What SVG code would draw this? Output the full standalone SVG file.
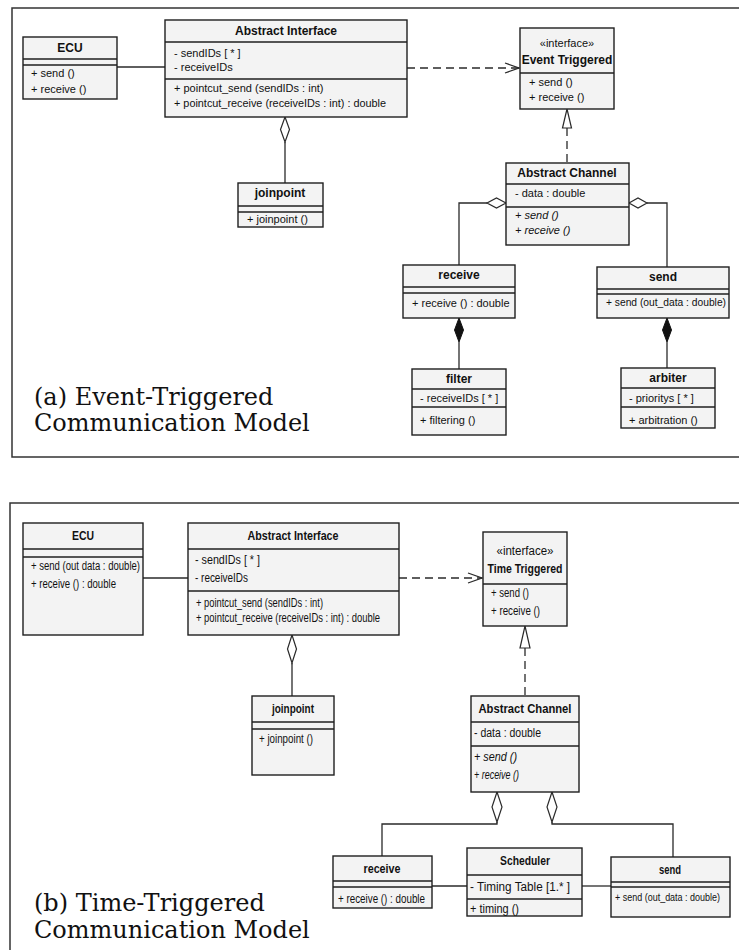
<svg xmlns="http://www.w3.org/2000/svg" width="739" height="950" viewBox="0 0 739 950">
<style>
.bg{fill:#ffffff}
.frame{fill:none;stroke:#333;stroke-width:1.5}
.box{fill:#f3f3f3;stroke:#1f1f1f;stroke-width:1.4}
.sep{stroke:#1f1f1f;stroke-width:1.4}
.ln{fill:none;stroke:#2a2a2a;stroke-width:1.3}
.dash{stroke-dasharray:8 5}
.hd{fill:#ffffff;stroke:#2a2a2a;stroke-width:1.2}
.fd{fill:#111;stroke:#111;stroke-width:1}
.tri{fill:#ffffff;stroke:#2a2a2a;stroke-width:1.2}
.n{font-family:"Liberation Sans",Arial,sans-serif;font-weight:bold;font-size:12px;text-anchor:middle;fill:#111}
.t{font-family:"Liberation Sans",Arial,sans-serif;font-size:11px;fill:#111}
.c{text-anchor:middle}
.it{font-style:italic}
.n2{font-family:"Liberation Sans",Arial,sans-serif;font-weight:bold;font-size:13px;text-anchor:middle;fill:#111}
.t2{font-family:"Liberation Sans",Arial,sans-serif;font-size:12.5px;fill:#111}
.title{font-family:"DejaVu Serif","Liberation Serif",serif;font-size:24px;fill:#111}
</style>
<defs>
<marker id="open" markerUnits="userSpaceOnUse" markerWidth="20" markerHeight="14" refX="15" refY="6" orient="auto" overflow="visible">
<path d="M1,1 L15,6 L1,11" fill="none" stroke="#2a2a2a" stroke-width="1.3"/>
</marker>
</defs>
<rect class="bg" x="0" y="0" width="739" height="950"/>
<path class="frame" d="M740,8 H12 V457 H740"/>
<path class="frame" d="M740,503 H10 V951"/>

<g id="connectors">
<line class="ln" x1="117" y1="67" x2="165" y2="67"/>
<line class="ln dash" x1="407" y1="68" x2="519" y2="68" marker-end="url(#open)"/>
<polygon class="hd" points="285,117 289.5,129.5 285,142 280.5,129.5"/>
<line class="ln" x1="285" y1="142" x2="285" y2="183"/>
<polygon class="tri" points="567,109 571.5,128 562.5,128"/>
<line class="ln dash" x1="567" y1="128" x2="567" y2="163"/>
<polygon class="hd" points="506,203 496.5,198 487,203 496.5,208"/>
<path class="ln" d="M487,203 H459 V265"/>
<polygon class="hd" points="629,203 638,198 647,203 638,208"/>
<path class="ln" d="M647,203 H667 V267"/>
<polygon class="fd" points="459,318 463.5,330 459,342 454.5,330"/>
<line class="ln" x1="459" y1="342" x2="459" y2="369"/>
<polygon class="fd" points="667,318 671.5,330 667,342 662.5,330"/>
<line class="ln" x1="667" y1="342" x2="667" y2="368"/>

<line class="ln" x1="143" y1="578" x2="188" y2="578"/>
<line class="ln dash" x1="399" y1="578" x2="482" y2="578" marker-end="url(#open)"/>
<polygon class="hd" points="292,635 296.5,649 292,663 287.5,649"/>
<line class="ln" x1="292" y1="663" x2="292" y2="696"/>
<polygon class="tri" points="525,626 530,648 520,648"/>
<line class="ln dash" x1="525" y1="648" x2="525" y2="696"/>
<polygon class="hd" points="497,792 502,807 497,822 492,807"/>
<path class="ln" d="M497,822 V824 H382 V856"/>
<polygon class="hd" points="552,792 557,807 552,822 547,807"/>
<path class="ln" d="M552,822 V824 H673 V857"/>
<line class="ln" x1="432" y1="886" x2="467" y2="886"/>
<line class="ln" x1="582" y1="886" x2="611" y2="886"/>
</g>

<!-- (a) Event-Triggered -->
<g id="ecu-a">
<rect class="box" x="23" y="37" width="94" height="62"/>
<line class="sep" x1="23" y1="59" x2="117" y2="59"/>
<line class="sep" x1="23" y1="65" x2="117" y2="65"/>
<text class="n" x="70" y="52">ECU</text>
<text class="t" x="31" y="77">+ send ()</text>
<text class="t" x="31" y="93">+ receive ()</text>
</g>
<g id="ai-a">
<rect class="box" x="165" y="20" width="242" height="97"/>
<line class="sep" x1="165" y1="42" x2="407" y2="42"/>
<line class="sep" x1="165" y1="79" x2="407" y2="79"/>
<text class="n" x="286" y="35">Abstract Interface</text>
<text class="t" x="174" y="57">- sendIDs [ * ]</text>
<text class="t" x="174" y="71">- receiveIDs</text>
<text class="t" x="174" y="92">+ pointcut_send (sendIDs : int)</text>
<text class="t" x="174" y="107" textLength="212" lengthAdjust="spacingAndGlyphs">+ pointcut_receive (receiveIDs : int) : double</text>
</g>
<g id="jp-a">
<rect class="box" x="238" y="183" width="85" height="44"/>
<line class="sep" x1="238" y1="206" x2="323" y2="206"/>
<line class="sep" x1="238" y1="212" x2="323" y2="212"/>
<text class="n" x="280" y="197">joinpoint</text>
<text class="t" x="247" y="223">+ joinpoint ()</text>
</g>
<g id="et-a">
<rect class="box" x="520" y="28" width="94" height="81"/>
<line class="sep" x1="520" y1="73" x2="614" y2="73"/>
<text class="t c" x="567" y="47">«interface»</text>
<text class="n" x="567" y="64">Event Triggered</text>
<text class="t" x="529" y="86">+ send ()</text>
<text class="t" x="529" y="101">+ receive ()</text>
</g>
<g id="ac-a">
<rect class="box" x="506" y="163" width="123" height="82"/>
<line class="sep" x1="506" y1="184" x2="629" y2="184"/>
<line class="sep" x1="506" y1="207" x2="629" y2="207"/>
<text class="n" x="567" y="177">Abstract Channel</text>
<text class="t" x="515" y="197">- data : double</text>
<text class="t it" x="515" y="219">+ send ()</text>
<text class="t it" x="515" y="234">+ receive ()</text>
</g>
<g id="recv-a">
<rect class="box" x="403" y="265" width="112" height="53"/>
<line class="sep" x1="403" y1="287" x2="515" y2="287"/>
<line class="sep" x1="403" y1="293" x2="515" y2="293"/>
<text class="n" x="459" y="279">receive</text>
<text class="t" x="412" y="307">+ receive () : double</text>
</g>
<g id="send-a">
<rect class="box" x="597" y="267" width="132" height="51"/>
<line class="sep" x1="597" y1="289" x2="729" y2="289"/>
<line class="sep" x1="597" y1="294" x2="729" y2="294"/>
<text class="n" x="663" y="281">send</text>
<text class="t" x="606" y="306" textLength="120" lengthAdjust="spacingAndGlyphs">+ send (out_data : double)</text>
</g>
<g id="filter-a">
<rect class="box" x="412" y="369" width="94" height="66"/>
<line class="sep" x1="412" y1="389" x2="506" y2="389"/>
<line class="sep" x1="412" y1="407" x2="506" y2="407"/>
<text class="n" x="459" y="383">filter</text>
<text class="t" x="420" y="402">- receiveIDs [ * ]</text>
<text class="t" x="420" y="424">+ filtering ()</text>
</g>
<g id="arbiter-a">
<rect class="box" x="621" y="368" width="94" height="60"/>
<line class="sep" x1="621" y1="388" x2="715" y2="388"/>
<line class="sep" x1="621" y1="407" x2="715" y2="407"/>
<text class="n" x="668" y="382">arbiter</text>
<text class="t" x="629" y="402">- prioritys [ * ]</text>
<text class="t" x="629" y="424">+ arbitration ()</text>
</g>
<g id="title-a">
<text class="title" x="34" y="405">(a) Event-Triggered</text>
<text class="title" x="34" y="431">Communication Model</text>
</g>

<!-- (b) Time-Triggered -->
<g id="ecu-b">
<rect class="box" x="23" y="523" width="120" height="112"/>
<line class="sep" x1="23" y1="549" x2="143" y2="549"/>
<line class="sep" x1="23" y1="557" x2="143" y2="557"/>
<text class="n2" x="83" y="540" textLength="22" lengthAdjust="spacingAndGlyphs">ECU</text>
<text class="t2" x="31" y="570" textLength="109" lengthAdjust="spacingAndGlyphs">+ send (out data : double)</text>
<text class="t2" x="31" y="588" textLength="85" lengthAdjust="spacingAndGlyphs">+ receive () : double</text>
</g>
<g id="ai-b">
<rect class="box" x="188" y="523" width="211" height="112"/>
<line class="sep" x1="188" y1="549" x2="399" y2="549"/>
<line class="sep" x1="188" y1="591" x2="399" y2="591"/>
<text class="n2" x="293" y="540" textLength="91" lengthAdjust="spacingAndGlyphs">Abstract Interface</text>
<text class="t2" x="195" y="564" textLength="65" lengthAdjust="spacingAndGlyphs">- sendIDs [ * ]</text>
<text class="t2" x="195" y="582" textLength="53" lengthAdjust="spacingAndGlyphs">- receiveIDs</text>
<text class="t2" x="196" y="607" textLength="127" lengthAdjust="spacingAndGlyphs">+ pointcut_send (sendIDs : int)</text>
<text class="t2" x="196" y="622" textLength="184" lengthAdjust="spacingAndGlyphs">+ pointcut_receive (receiveIDs : int) : double</text>
</g>
<g id="tt-b">
<rect class="box" x="483" y="532" width="84" height="94"/>
<line class="sep" x1="483" y1="584" x2="567" y2="584"/>
<text class="t2 c" x="525" y="555" textLength="57" lengthAdjust="spacingAndGlyphs">«interface»</text>
<text class="n2" x="525" y="573" textLength="75" lengthAdjust="spacingAndGlyphs">Time Triggered</text>
<text class="t2" x="491" y="597" textLength="38" lengthAdjust="spacingAndGlyphs">+ send ()</text>
<text class="t2" x="491" y="615" textLength="49" lengthAdjust="spacingAndGlyphs">+ receive ()</text>
</g>
<g id="jp-b">
<rect class="box" x="252" y="696" width="82" height="79"/>
<line class="sep" x1="252" y1="722" x2="334" y2="722"/>
<line class="sep" x1="252" y1="729" x2="334" y2="729"/>
<text class="n2" x="293" y="713" textLength="42" lengthAdjust="spacingAndGlyphs">joinpoint</text>
<text class="t2" x="259" y="743" textLength="54" lengthAdjust="spacingAndGlyphs">+ joinpoint ()</text>
</g>
<g id="ac-b">
<rect class="box" x="471" y="696" width="108" height="96"/>
<line class="sep" x1="471" y1="722" x2="579" y2="722"/>
<line class="sep" x1="471" y1="746" x2="579" y2="746"/>
<text class="n2" x="525" y="713" textLength="93" lengthAdjust="spacingAndGlyphs">Abstract Channel</text>
<text class="t2" x="474" y="737" textLength="67" lengthAdjust="spacingAndGlyphs">- data : double</text>
<text class="t2 it" x="474" y="761" textLength="43" lengthAdjust="spacingAndGlyphs">+ send ()</text>
<text class="t2 it" x="474" y="779" textLength="45" lengthAdjust="spacingAndGlyphs">+ receive ()</text>
</g>
<g id="recv-b">
<rect class="box" x="333" y="856" width="99" height="52"/>
<line class="sep" x1="333" y1="881" x2="432" y2="881"/>
<line class="sep" x1="333" y1="887" x2="432" y2="887"/>
<text class="n2" x="382" y="873" textLength="37" lengthAdjust="spacingAndGlyphs">receive</text>
<text class="t2" x="338" y="903" textLength="87" lengthAdjust="spacingAndGlyphs">+ receive () : double</text>
</g>
<g id="sched-b">
<rect class="box" x="467" y="848" width="115" height="68"/>
<line class="sep" x1="467" y1="875" x2="582" y2="875"/>
<line class="sep" x1="467" y1="899" x2="582" y2="899"/>
<text class="n2" x="525" y="865" textLength="50" lengthAdjust="spacingAndGlyphs">Scheduler</text>
<text class="t2" x="470" y="891" textLength="100" lengthAdjust="spacingAndGlyphs">- Timing Table [1.* ]</text>
<text class="t2" x="470" y="913" textLength="49" lengthAdjust="spacingAndGlyphs">+ timing ()</text>
</g>
<g id="send-b">
<rect class="box" x="611" y="857" width="119" height="60"/>
<line class="sep" x1="611" y1="882" x2="730" y2="882"/>
<line class="sep" x1="611" y1="887" x2="730" y2="887"/>
<text class="n2" x="670" y="874" textLength="22" lengthAdjust="spacingAndGlyphs">send</text>
<text class="t" x="615" y="901" font-size="9" textLength="105" lengthAdjust="spacingAndGlyphs">+ send (out_data : double)</text>
</g>
<g id="title-b">
<text class="title" x="34" y="911">(b) Time-Triggered</text>
<text class="title" x="34" y="938">Communication Model</text>
</g>
</svg>
